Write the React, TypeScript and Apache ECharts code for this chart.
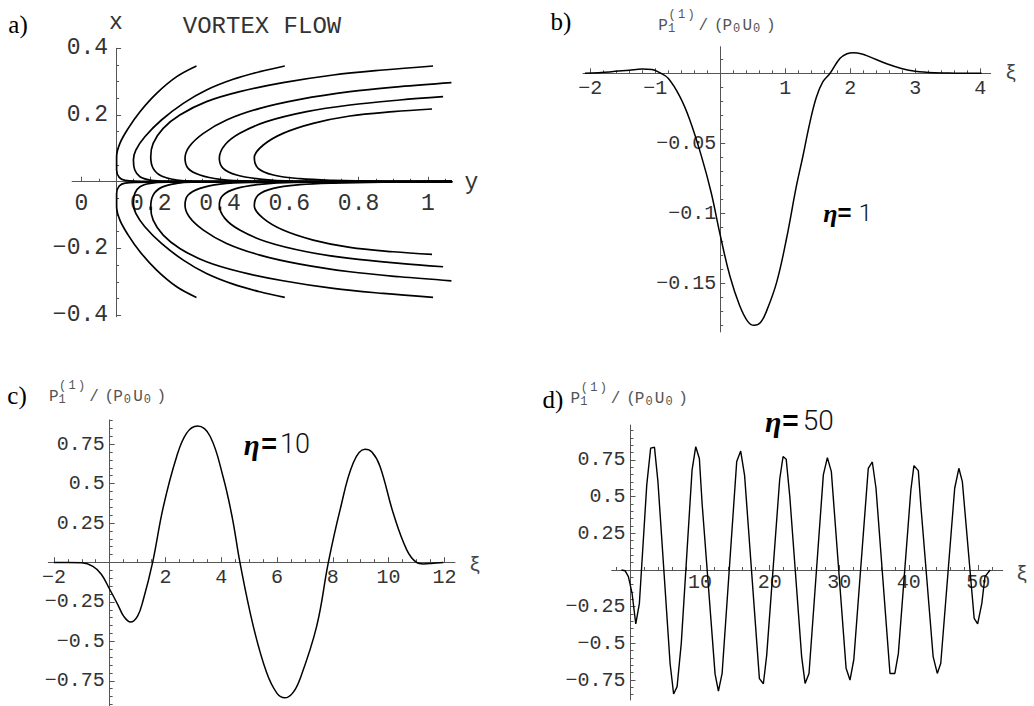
import React, { useEffect, useRef } from "react";
import * as echarts from "echarts";

// ---------- Panel a: VORTEX FLOW streamlines, points are [y, x] ----------
const aUp1 = [[0.332,0.347],[0.275,0.315],[0.217,0.265],[0.169,0.21],[0.135,0.16],[0.111,0.115],[0.1015,0.075],[0.1015,0.035],[0.109,0.013],[0.126,0.004],[0.198,0.001],[1.07,0]];
const aUp2 = [[0.587,0.347],[0.515,0.33],[0.438,0.307],[0.361,0.275],[0.294,0.235],[0.231,0.185],[0.183,0.135],[0.157,0.095],[0.15,0.065],[0.154,0.035],[0.169,0.015],[0.198,0.005],[0.246,0.0015],[1.07,0]];
const aUp3 = [[1.015,0.347],[0.871,0.335],[0.727,0.32],[0.582,0.297],[0.457,0.27],[0.361,0.24],[0.284,0.2],[0.236,0.16],[0.207,0.115],[0.2,0.075],[0.207,0.04],[0.231,0.017],[0.275,0.005],[0.32,0.0015],[1.07,0]];
const aUp4 = [[1.068,0.297],[0.919,0.285],[0.775,0.27],[0.631,0.247],[0.515,0.22],[0.419,0.185],[0.352,0.145],[0.311,0.105],[0.299,0.07],[0.308,0.04],[0.342,0.02],[0.4,0.007],[0.486,0.002],[1.07,0]];
const aUp5 = [[1.044,0.255],[0.919,0.245],[0.775,0.23],[0.65,0.21],[0.534,0.18],[0.457,0.145],[0.414,0.11],[0.398,0.07],[0.409,0.04],[0.448,0.02],[0.515,0.008],[0.611,0.002],[1.07,0]];
const aUp6 = [[1.012,0.218],[0.9,0.21],[0.775,0.197],[0.669,0.175],[0.582,0.145],[0.525,0.11],[0.499,0.073],[0.51,0.04],[0.554,0.02],[0.631,0.009],[0.727,0.004],[0.871,0.001],[1.07,0]];
const aLow1 = [[0.332,-0.347],[0.275,-0.315],[0.217,-0.265],[0.169,-0.21],[0.135,-0.16],[0.111,-0.115],[0.1015,-0.075],[0.1015,-0.035],[0.109,-0.013],[0.126,-0.004],[0.198,-0.001],[1.07,0]];
const aLow2 = [[0.587,-0.347],[0.515,-0.33],[0.438,-0.307],[0.361,-0.275],[0.294,-0.235],[0.231,-0.185],[0.183,-0.135],[0.157,-0.095],[0.15,-0.065],[0.154,-0.035],[0.169,-0.015],[0.198,-0.005],[0.246,-0.0015],[1.07,0]];
const aLow3 = [[1.015,-0.347],[0.871,-0.335],[0.727,-0.32],[0.582,-0.297],[0.457,-0.27],[0.361,-0.24],[0.284,-0.2],[0.236,-0.16],[0.207,-0.115],[0.2,-0.075],[0.207,-0.04],[0.231,-0.017],[0.275,-0.005],[0.32,-0.0015],[1.07,0]];
const aLow4 = [[1.068,-0.297],[0.919,-0.285],[0.775,-0.27],[0.631,-0.247],[0.515,-0.22],[0.419,-0.185],[0.352,-0.145],[0.311,-0.105],[0.299,-0.07],[0.308,-0.04],[0.342,-0.02],[0.4,-0.007],[0.486,-0.002],[1.07,0]];
const aLow5 = [[1.044,-0.255],[0.919,-0.245],[0.775,-0.23],[0.65,-0.21],[0.534,-0.18],[0.457,-0.145],[0.414,-0.11],[0.398,-0.07],[0.409,-0.04],[0.448,-0.02],[0.515,-0.008],[0.611,-0.002],[1.07,0]];
const aLow6 = [[1.012,-0.218],[0.9,-0.21],[0.775,-0.197],[0.669,-0.175],[0.582,-0.145],[0.525,-0.11],[0.499,-0.073],[0.51,-0.04],[0.554,-0.02],[0.631,-0.009],[0.727,-0.004],[0.871,-0.001],[1.07,0]];

// ---------- Panel b: eta = 1, [xi, P] ----------
const bCurve = [[-2.08,0],[-1.7,0.001],[-1.4,0.0022],[-1.2,0.003],[-1.05,0.0027],[-0.93,0.0004],[-0.8,-0.0036],[-0.62,-0.0167],[-0.47,-0.033],[-0.29,-0.059],[-0.14,-0.085],[0,-0.1155],[0.15,-0.145],[0.3,-0.166],[0.42,-0.177],[0.52,-0.18],[0.62,-0.178],[0.72,-0.169],[0.87,-0.149],[1.02,-0.118],[1.17,-0.081],[1.27,-0.0596],[1.38,-0.035],[1.48,-0.017],[1.58,-0.006],[1.69,0],[1.84,0.0105],[1.95,0.014],[2.05,0.0147],[2.18,0.0138],[2.3,0.0117],[2.56,0.0068],[2.8,0.0033],[3.0,0.0015],[3.3,0.0004],[3.6,0.0001],[4.02,0]];

// ---------- Panel c: eta = 10 ----------
const cCurve = [[-2.0,0],[-1.5,0],[-1.0,-0.002],[-0.6,-0.025],[-0.3,-0.075],[0,-0.17],[0.3,-0.27],[0.5,-0.34],[0.75,-0.378],[1.0,-0.34],[1.2,-0.24],[1.54,0],[1.92,0.35],[2.4,0.67],[2.76,0.82],[3.15,0.865],[3.6,0.8],[4.07,0.54],[4.4,0.28],[4.67,0],[5.15,-0.405],[5.63,-0.7],[6.0,-0.83],[6.28,-0.858],[6.55,-0.83],[6.82,-0.74],[7.42,-0.405],[7.84,0],[8.26,0.333],[8.73,0.63],[9.15,0.717],[9.4,0.7],[9.69,0.61],[10.17,0.31],[10.65,0.08],[11.0,0],[11.25,-0.01],[11.6,-0.005],[11.96,0]];

// ---------- Panel d: eta = 50 ----------
const dCurve = [[-1.3,0],[-0.78,-0.005],[-0.3,-0.045],[0.23,-0.16],[0.76,-0.368],[1.28,-0.227],[2.34,0.58],[2.9,0.83],[3.45,0.836],[3.95,0.6],[5.69,-0.636],[6.2,-0.845],[6.7,-0.795],[7.3,-0.5],[8.85,0.68],[9.38,0.84],[9.9,0.76],[10.3,0.45],[12.16,-0.71],[12.64,-0.825],[13.17,-0.705],[15.27,0.74],[15.84,0.81],[16.4,0.645],[18.53,-0.74],[19.1,-0.775],[19.58,-0.58],[21.45,0.62],[21.93,0.773],[22.38,0.755],[22.9,0.5],[24.6,-0.59],[25.1,-0.773],[25.66,-0.705],[27.72,0.648],[28.3,0.766],[28.87,0.67],[30.99,-0.67],[31.55,-0.75],[32.1,-0.61],[34.18,0.693],[34.76,0.736],[35.29,0.557],[37.3,-0.705],[38.0,-0.705],[38.5,-0.57],[40.3,0.545],[40.74,0.711],[41.37,0.677],[41.75,0.43],[43.5,-0.59],[44.1,-0.705],[44.6,-0.636],[46.6,0.557],[47.2,0.693],[47.7,0.602],[49.4,-0.33],[49.9,-0.368],[50.5,-0.227],[50.95,-0.045],[51.7,0]];

// ---------- tick labels ----------
const aXLabels = [0, 0.2, 0.4, 0.6, 0.8, 1];
const aYLabels = [-0.4, -0.2, 0.2, 0.4];
const bXLabels = [-2, -1, 1, 2, 3, 4];
const bYLabels = [-0.15, -0.1, -0.05];
const cXLabels = [-2, 2, 4, 6, 8, 10, 12];
const cYLabels = [-0.75, -0.5, -0.25, 0.25, 0.5, 0.75];
const dXLabels = [10, 20, 30, 40, 50];
const dYLabels = [-0.75, -0.5, -0.25, 0.25, 0.5, 0.75];

const MONO = "'Liberation Mono', 'DejaVu Sans Mono', monospace";
const SERIF = "'Liberation Serif', 'DejaVu Serif', serif";
const AXIS_COLOR = "#555";
const TEXT_COLOR = "#333";

function fmt(v: number): string {
  return String(v).replace("-", "\u2212");
}

function fineTicks(lo: number, hi: number, step: number): number[] {
  const out: number[] = [];
  const n0 = Math.ceil(lo / step - 1e-9);
  const n1 = Math.floor(hi / step + 1e-9);
  for (let k = n0; k <= n1; k++) out.push(+(k * step).toFixed(6));
  return out;
}

type Panel = {
  rect: { left: number; top: number; width: number; height: number };
  xMin: number; xMax: number; yMin: number; yMax: number;
  xLabels: number[]; yLabels: number[];
  xMinor: number; yMinor: number;
  fs: number; xMargin: number; yMargin: number;
  crossX: number; // data value on horizontal axis where the vertical axis stands
};

const panels: Panel[] = [
  { rect: { left: 72.1, top: 48.3, width: 380, height: 268.5 }, xMin: -0.027, xMax: 1.07, yMin: -0.405, yMax: 0.4,
    xLabels: aXLabels, yLabels: aYLabels, xMinor: 0.05, yMinor: 0.05, fs: 23, xMargin: 11, yMargin: 8, crossX: 0.1 },
  { rect: { left: 583, top: 46.7, width: 407.7, height: 285.3 }, xMin: -2.11, xMax: 4.16, yMin: -0.1848, yMax: 0.019,
    xLabels: bXLabels, yLabels: bYLabels, xMinor: 0.2, yMinor: 0.01, fs: 20, xMargin: 5, yMargin: 4, crossX: 0 },
  { rect: { left: 48.3, top: 420, width: 406.7, height: 286.5 }, xMin: -2.2, xMax: 12.38, yMin: -0.91, yMax: 0.903,
    xLabels: cXLabels, yLabels: cYLabels, xMinor: 0.5, yMinor: 0.05, fs: 20, xMargin: 5.5, yMargin: 5, crossX: 0 },
  { rect: { left: 611.7, top: 425, width: 391, height: 275 }, xMin: -2.7, xMax: 53.5, yMin: -0.886, yMax: 0.988,
    xLabels: dXLabels, yLabels: dYLabels, xMinor: 2, yMinor: 0.05, fs: 20, xMargin: 2.5, yMargin: 5, crossX: 0 },
];

function axis(dim: "x" | "y", p: Panel, g: number, minor: boolean) {
  const isX = dim === "x";
  const min = isX ? p.xMin : p.yMin;
  const max = isX ? p.xMax : p.yMax;
  // shift the axis inward so it crosses the other axis where the reference has it
  const offset = isX
    ? -p.rect.height * (0 - p.yMin) / (p.yMax - p.yMin)
    : -p.rect.width * (p.crossX - p.xMin) / (p.xMax - p.xMin);
  const labels = isX ? p.xLabels : p.yLabels;
  return {
    type: "value", gridIndex: g, min, max,
    position: isX ? "bottom" : "left",
    offset,
    axisLine: { show: !minor, onZero: false, lineStyle: { color: AXIS_COLOR, width: 1 } },
    axisTick: {
      show: true, inside: true, length: minor ? 3 : 5,
      customValues: minor ? fineTicks(min, max, isX ? p.xMinor : p.yMinor) : labels,
      lineStyle: { color: AXIS_COLOR, width: 1 },
    },
    axisLabel: minor
      ? { show: false }
      : { show: true, customValues: labels, formatter: fmt, fontFamily: MONO, fontSize: p.fs,
          color: TEXT_COLOR, margin: isX ? p.xMargin : p.yMargin },
    splitLine: { show: false },
  };
}

function line(data: number[][], idx: number, width: number, smooth: number | boolean) {
  return {
    type: "line", xAxisIndex: idx, yAxisIndex: idx, data, showSymbol: false, symbol: "none",
    smooth, silent: true, lineStyle: { color: "#000", width },
  };
}

function txt(text: string, x: number, y: number, font: string, fill: string, align = "center") {
  return { type: "text", x, y, silent: true, style: { text, font, fill, align, verticalAlign: "middle" } };
}

function pLabel(cx: number, cy: number) {
  const main = `16px ${MONO}`;
  const small = `12px ${MONO}`;
  const c = "#555";
  return [
    txt("P", cx, cy, main, c),
    txt("1", cx + 8.5, cy + 3.5, small, c),
    txt("(", cx + 9, cy - 11, small, c),
    txt("1", cx + 18.5, cy - 11, small, c),
    txt(")", cx + 28, cy - 11, small, c),
    txt("/", cx + 40.3, cy, main, c),
    txt("(", cx + 55.7, cy, main, c),
    txt("P", cx + 64.3, cy, main, c),
    txt("0", cx + 73.7, cy + 3.5, small, c),
    txt("U", cx + 84.3, cy, main, c),
    txt("0", cx + 93.7, cy + 3.5, small, c),
    txt(")", cx + 107.7, cy, main, c),
  ];
}

function etaLabel(ex: number, eqx: number, nx: number, cy: number, fs: number, num: string) {
  return [
    txt("\u03b7", ex, cy + 1, `italic bold ${fs + 2}px ${SERIF}`, "#000"),
    txt("=", eqx, cy, `bold ${fs}px 'Liberation Sans', sans-serif`, "#000"),
    txt(num, nx, cy, `300 ${fs}px Roboto, 'Open Sans', sans-serif`, "#111"),
  ];
}

function buildOption() {
  const xAxis = [...panels.map((p, i) => axis("x", p, i, false)), ...panels.map((p, i) => axis("x", p, i, true))];
  const yAxis = [...panels.map((p, i) => axis("y", p, i, false)), ...panels.map((p, i) => axis("y", p, i, true))];
  const aCurves = [aUp1, aUp2, aUp3, aUp4, aUp5, aUp6, aLow1, aLow2, aLow3, aLow4, aLow5, aLow6];
  const series = [
    ...aCurves.map((d) => line(d, 0, 1.7, 0.35)),
    line(bCurve, 1, 1.5, 0.4),
    line(cCurve, 2, 1.5, 0.4),
    line(dCurve, 3, 1.4, false),
  ];
  const graphic = [
    txt("a)", 18, 24, `25px ${SERIF}`, "#000"),
    txt("b)", 561, 21.5, `25px ${SERIF}`, "#000"),
    txt("c)", 17, 395.5, `25px ${SERIF}`, "#000"),
    txt("d)", 553, 399, `25px ${SERIF}`, "#000"),
    txt("x", 116, 22.5, `23px ${MONO}`, TEXT_COLOR),
    txt("VORTEX FLOW", 262, 26.5, `24px ${MONO}`, TEXT_COLOR),
    txt("y", 471.5, 183, `23px ${MONO}`, TEXT_COLOR),
    txt("\u03be", 1011, 73, `20px ${MONO}`, "#444"),
    txt("\u03be", 475, 565, `20px ${MONO}`, "#444"),
    txt("\u03be", 1022, 574, `20px ${MONO}`, "#444"),
    ...pLabel(663, 25.5),
    ...pLabel(53.7, 396.5),
    ...pLabel(575.3, 398.8),
    ...etaLabel(830.5, 844.5, 865.5, 212.5, 24, "1"),
    ...etaLabel(251.7, 269.2, 295, 443.7, 27, "10"),
    ...etaLabel(773.3, 790.3, 818.3, 420, 28, "50"),
  ];
  return {
    animation: false,
    backgroundColor: "#fff",
    grid: panels.map((p) => ({ ...p.rect })),
    xAxis,
    yAxis,
    series,
    graphic,
  };
}

export default function App() {
  const ref = useRef<HTMLDivElement>(null);
  useEffect(() => {
    if (!ref.current) return;
    const chart = echarts.init(ref.current, null, { renderer: "svg" });
    chart.setOption(buildOption() as any);
    return () => chart.dispose();
  }, []);
  return (
    <div
      ref={ref}
      style={{ position: "absolute", left: 0, top: 0, width: 1034, height: 706, background: "#fff" }}
    />
  );
}
